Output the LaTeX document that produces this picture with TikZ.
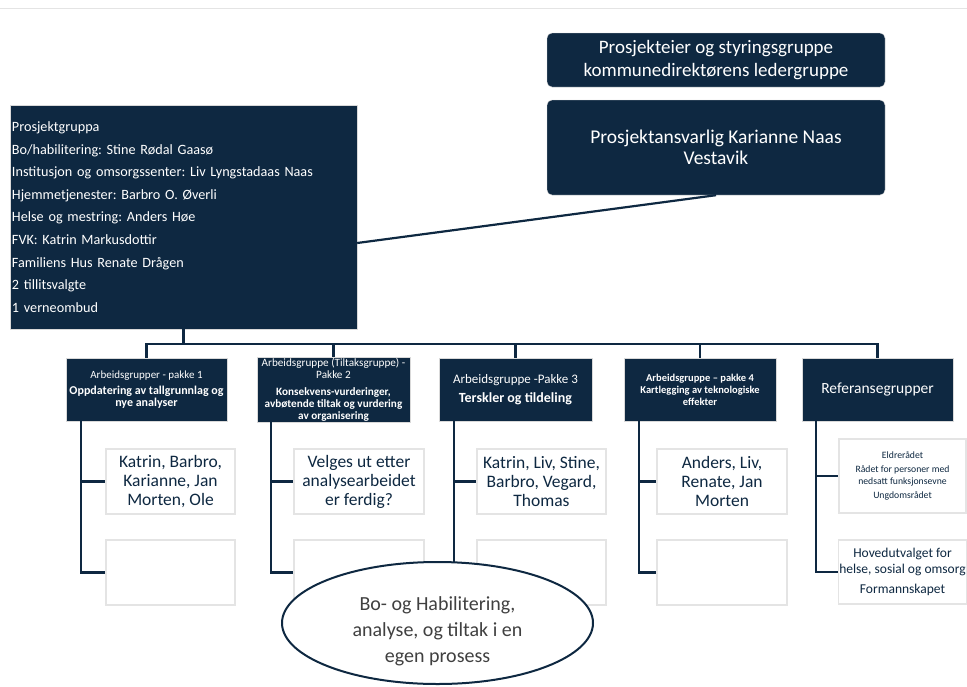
\documentclass[tikz,border=0pt]{standalone}
\usepackage{fontspec}
\setmainfont{Carlito}
\frenchspacing
\usetikzlibrary{positioning,shapes.geometric,calc}
\definecolor{navy}{RGB}{14,40,65}
\definecolor{paleline}{RGB}{228,228,228}
\definecolor{softtext}{RGB}{64,64,64}
\tikzset{
  headbox/.style  = {rectangle, rounded corners=5pt, fill=navy, draw=gray!30,
                     text=white, align=center, inner sep=2pt, minimum width=338pt},
  teambox/.style  = {rectangle, fill=navy, draw=gray!30, text=white, align=left,
                     inner sep=2pt, text width=343pt, minimum height=224pt,
                     font=\fontsize{14.2}{22.6}\selectfont},
  pkg/.style      = {rectangle, fill=navy, draw=gray!30, text=white, align=center,
                     inner sep=1pt, minimum height=63pt},
  member/.style   = {rectangle, draw=paleline, line width=1.5pt, fill=white, text=navy,
                     align=center, inner sep=1pt, minimum width=129pt, minimum height=65pt,
                     font=\fontsize{17.5}{19}\selectfont},
  link/.style     = {navy, line width=2.2pt},
  note/.style     = {ellipse, draw=navy, line width=2pt, fill=white,
                     inner sep=0pt, minimum width=311pt, minimum height=122pt},
  notetext/.style = {align=center, text=softtext, yshift=-8pt,
                     font=\fontsize{20}{26}\selectfont},
}

\begin{document}
\begin{tikzpicture}[x=1pt, y=-1pt]

      \useasboundingbox (0,0) rectangle (967,686);
      \draw[paleline, line width=1pt] (0,8) -- (967,8);

      % leadership
      \node[headbox, minimum height=54pt, font=\fontsize{19}{23}\selectfont] (owner) at (716,60)
           {Prosjekteier og styringsgruppe\\kommunedirektørens ledergruppe};
      \node[headbox, minimum height=95pt, font=\fontsize{19.5}{21}\selectfont] (leader) at (716,147.5)
           {Prosjektansvarlig Karianne Naas\\Vestavik};

      \node[teambox] (team) at (183.5,217)
           {Prosjektgruppa\\
            Bo/habilitering: Stine Rødal Gaasø\\
            Institusjon og omsorgssenter: Liv Lyngstadaas Naas\\
            Hjemmetjenester: Barbro O. Øverli\\
            Helse og mestring: Anders Høe\\
            FVK: Katrin Markusdottir\\
            Familiens Hus Renate Drågen\\
            2 tillitsvalgte\\
            1 verneombud};
      \draw[link] (leader.south) -- ($(team.east)+(0,26)$);

      % work packages
      \node[pkg, minimum width=161pt, font=\fontsize{11}{11.5}\selectfont] (pk1) at (146.5,389.5)
           {Arbeidsgrupper - pakke 1\\[5pt]{\fontsize{12}{11.5}\selectfont\bfseries Oppdatering av tallgrunnlag og}\\
            {\fontsize{12}{11.5}\selectfont\bfseries nye analyser}};
      \node[pkg, minimum width=153pt, font=\fontsize{11.2}{12}\selectfont] (pk2) at (333.5,389.5)
           {Arbeidsgruppe (Tiltaksgruppe) -\\Pakke 2\\[5pt]\textbf{Konsekvens-vurderinger,}\\
            \textbf{avbøtende tiltak og vurdering}\\\textbf{av organisering}};
      \node[pkg, minimum width=153pt, font=\fontsize{13}{14}\selectfont] (pk3) at (515.5,389.5)
           {Arbeidsgruppe -Pakke 3\\[5pt]{\fontsize{14}{14}\selectfont\bfseries Terskler og tildeling}};
      \node[pkg, minimum width=152pt, font=\bfseries\fontsize{10.5}{12}\selectfont] (pk4) at (700,389.5)
           {Arbeidsgruppe – pakke 4\\Kartlegging av teknologiske\\effekter};
      \node[pkg, minimum width=151pt, font=\fontsize{15.5}{20}\selectfont] (pk5) at (877.5,389.5)
           {Referansegrupper};

      \draw[link] (team.south) -- ++(0,15) -| (pk1.north);
      \draw[link] (team.south) -- ++(0,15) -| (pk2.north);
      \draw[link] (team.south) -- ++(0,15) -| (pk3.north);
      \draw[link] (team.south) -- ++(0,15) -| (pk4.north);
      \draw[link] (team.south) -- ++(0,15) -| (pk5.north);

      % members
      \node[member] (m1a) at (170.5,481.5) {Katrin, Barbro,\\Karianne, Jan\\Morten, Ole};
      \node[member] (m1b) at (170.5,572.5) {};
      \node[member, minimum width=130pt] (m2a) at (359,481.5) {Velges ut etter\\analysearbeidet\\er ferdig?};
      \node[member, minimum width=130pt] (m2b) at (359,572.5) {};
      \node[member] (m3a) at (541.5,481.5) {Katrin, Liv, Stine,\\Barbro, Vegard,\\Thomas};
      \node[member] (m3b) at (541.5,572.5) {};
      \node[member, minimum width=130pt] (m4a) at (722,481.5) {Anders, Liv,\\Renate, Jan\\Morten};
      \node[member, minimum width=130pt] (m4b) at (722,572.5) {};
      \node[member, minimum width=127pt, minimum height=74pt, font=\fontsize{9.7}{12}\selectfont] (m5a) at (902.5,476)
           {Eldrerådet\\[2pt]Rådet for personer med\\nedsatt funksjonsevne\\[2pt]Ungdomsrådet};
      \node[member, minimum width=127pt, minimum height=64pt, font=\fontsize{13.5}{16}\selectfont] (m5b) at (902.5,572)
           {Hovedutvalget for\\helse, sosial og omsorg\\[4pt]Formannskapet};

      \draw[link] ($(pk1.south west)+(15,0)$) |- (m1a.west); \draw[link] ($(pk1.south west)+(15,0)$) |- (m1b.west);
      \draw[link] ($(pk2.south west)+(14,0)$) |- (m2a.west); \draw[link] ($(pk2.south west)+(14,0)$) |- (m2b.west);
      \draw[link] ($(pk3.south west)+(15,0)$) |- (m3a.west); \draw[link] ($(pk3.south west)+(15,0)$) |- (m3b.west);
      \draw[link] ($(pk4.south west)+(15,0)$) |- (m4a.west); \draw[link] ($(pk4.south west)+(15,0)$) |- (m4b.west);
      \draw[link] ($(pk5.south west)+(14,0)$) |- (m5a.west); \draw[link] ($(pk5.south west)+(14,0)$) |- (m5b.west);

      % separate process
      \node[note, label={[notetext]center:{Bo- og Habilitering,\\analyse, og tiltak i en\\egen prosess}}] (bohab)
           at (437.5,623) {};

    \end{tikzpicture}
\end{document}
